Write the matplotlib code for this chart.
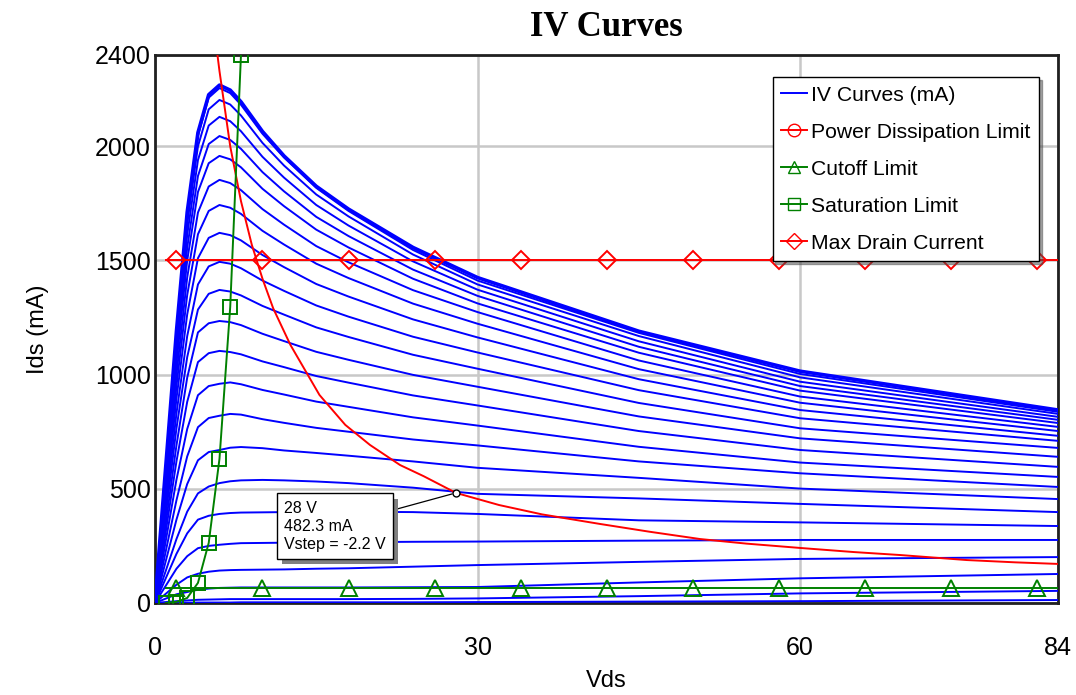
import matplotlib
matplotlib.use('Agg')
import matplotlib.pyplot as plt
from matplotlib.lines import Line2D
import matplotlib.patheffects as pe

plt.rcParams['font.family'] = ['Liberation Sans', 'DejaVu Sans']

# Vds sample points (V) shared by all IV curves
vds = [0, 2, 3, 4, 5, 6, 7, 8, 10, 12, 15, 18, 24, 30, 45, 60, 84]

# Ids (mA) for each gate step, bottom curve first
ids_steps = [
    [0, 1, 1, 2, 2, 2, 2, 3, 3, 3, 3, 3, 3, 4, 6, 8, 13],
    [0, 8, 11, 14, 15, 16, 17, 17, 17, 17, 17, 17, 18, 20, 30, 42, 53],
    [0, 38, 48, 58, 63, 66, 67, 68, 68, 68, 68, 68, 69, 70, 90, 108, 127],
    [0, 80, 112, 128, 137, 142, 144, 145, 146, 147, 150, 152, 159, 166, 180, 193, 201],
    [0, 150, 205, 240, 250, 255, 259, 262, 263, 264, 265, 266, 268, 269, 273, 276, 276],
    [0, 215, 305, 365, 382, 390, 394, 396, 397, 398, 399, 400, 398, 390, 362, 353, 337],
    [0, 280, 400, 480, 510, 525, 533, 537, 539, 537, 532, 525, 505, 478, 458, 434, 398],
    [0, 365, 521, 625, 661, 670, 680, 683, 678, 668, 657, 645, 620, 592, 548, 501, 455],
    [0, 450, 642, 770, 810, 820, 828, 825, 805, 789, 767, 750, 716, 690, 620, 568, 508],
    [0, 540, 762, 910, 950, 960, 966, 958, 933, 913, 882, 859, 813, 777, 684, 615, 552],
    [0, 620, 881, 1055, 1094, 1104, 1099, 1089, 1058, 1033, 994, 965, 909, 865, 753, 670, 596],
    [0, 690, 987, 1185, 1225, 1235, 1230, 1217, 1179, 1147, 1100, 1065, 999, 947, 817, 721, 640],
    [0, 765, 1077, 1285, 1354, 1371, 1364, 1347, 1301, 1263, 1207, 1165, 1087, 1026, 876, 765, 679],
    [0, 830, 1169, 1395, 1474, 1494, 1486, 1466, 1412, 1367, 1303, 1254, 1166, 1097, 932, 809, 710],
    [0, 895, 1264, 1510, 1599, 1621, 1611, 1588, 1524, 1471, 1397, 1342, 1242, 1163, 980, 845, 732],
    [0, 950, 1349, 1615, 1717, 1743, 1731, 1704, 1630, 1570, 1486, 1423, 1311, 1223, 1024, 877, 753],
    [0, 1000, 1426, 1710, 1824, 1853, 1839, 1808, 1725, 1657, 1563, 1492, 1370, 1274, 1062, 904, 771],
    [0, 1050, 1500, 1800, 1926, 1958, 1943, 1908, 1814, 1738, 1635, 1557, 1420, 1312, 1096, 930, 788],
    [0, 1085, 1556, 1870, 2010, 2045, 2028, 1989, 1887, 1803, 1691, 1607, 1460, 1345, 1122, 950, 802],
    [0, 1120, 1612, 1940, 2091, 2129, 2110, 2066, 1954, 1863, 1743, 1653, 1496, 1372, 1146, 969, 815],
    [0, 1150, 1660, 2000, 2162, 2203, 2183, 2135, 2015, 1916, 1789, 1693, 1526, 1395, 1169, 988, 828],
    [0, 1180, 1699, 2045, 2213, 2255, 2233, 2182, 2055, 1951, 1818, 1717, 1546, 1412, 1183, 1003, 837],
    [0, 1190, 1712, 2060, 2226, 2268, 2246, 2195, 2065, 1958, 1825, 1725, 1557, 1425, 1190, 1015, 845],
]

# power dissipation limit
pd_v = [5.6, 6.0, 7.0, 8.0, 9.0, 10.0, 11.0, 12.6, 15.3, 17.7, 20.0, 22.8, 25.0,
        28.0, 32.0, 36.0, 41.4, 46.0, 50.7, 55.0, 60.0, 65.0, 69.3, 75.5, 80.0, 84.0]
pd_i = [2480, 2330, 2000, 1760, 1570, 1420, 1290, 1130, 911, 780, 692, 604, 555,
        482, 429, 388, 346, 312, 280, 260, 241, 223, 210, 188, 178, 171]

# saturation limit
sat_v = [1, 2, 3, 4, 5, 6, 7, 8]
sat_i = [0, 5, 22, 88, 263, 631, 1297, 2400]

# cutoff limit and max drain current (markers every 8 V)
lim_v = list(range(1, 85))
cutoff_ma = 67
max_drain_ma = 1500

# marker readout
mark_v = 28
mark_i = 482.3
vstep = -2.2

fig = plt.figure(figsize=(10.76, 6.95), dpi=100)
ax = fig.add_axes([0.144, 0.1324, 0.8395, 0.7885])

blue = '#0000ff'
red = '#ff0000'
green = '#008000'

for k, row in enumerate(ids_steps):
    lw = 2.6 if k == len(ids_steps) - 1 else 1.4
    ax.plot(vds, row, color=blue, lw=lw, zorder=3)

ax.plot(pd_v, pd_i, color=red, lw=1.4, zorder=4)
ax.plot(lim_v, [cutoff_ma] * len(lim_v), color=green, lw=1.4, marker='^',
        markevery=(1, 8), ms=11, mfc='none', mec=green, mew=1.4, zorder=4)
ax.plot(sat_v, sat_i, color=green, lw=1.4, marker='s', ms=10,
        mfc='none', mec=green, mew=1.4, zorder=4)
ax.plot(lim_v, [max_drain_ma] * len(lim_v), color=red, lw=1.4, marker='D',
        markevery=(1, 8), ms=9, mfc='none', mec=red, mew=1.4, zorder=4)

ax.set_xlim(0, 84)
ax.set_ylim(0, 2400)
ax.set_xticks([0, 30, 60, 84])
ax.set_yticks([0, 500, 1000, 1500, 2000, 2400])
ax.set_yticklabels(['0', '500', '1000', '1500', '2000', '2400'])
ax.tick_params(axis='both', length=0, labelsize=18)
ax.tick_params(axis='x', pad=24)
ax.tick_params(axis='y', pad=3)
ax.grid(True, color='#c8c8c8', lw=1.8, zorder=0)
ax.set_axisbelow(True)
for s in ax.spines.values():
    s.set_linewidth(2)
    s.set_color('#202020')

ax.set_xlabel('Vds', fontsize=17, labelpad=7)
ax.set_ylabel('Ids (mA)', fontsize=17, labelpad=33)
fig.text(0.564, 0.96, 'IV Curves', ha='center', va='center', fontsize=25,
         fontweight='bold', family=['Liberation Serif', 'DejaVu Serif'])

# readout callout
ax.plot([mark_v], [mark_i], marker='o', ms=5, mfc='white', mec='black', mew=1, zorder=6)
ann = ax.annotate(f'{mark_v} V\n{mark_i} mA\nVstep = {vstep} V',
                  xy=(mark_v, mark_i), xytext=(12.0, 337), fontsize=11.5,
                  ha='left', va='center', linespacing=1.25, zorder=7,
                  bbox=dict(boxstyle='square,pad=0.45', fc='white', ec='black', lw=1),
                  arrowprops=dict(arrowstyle='-', color='black', lw=0.9, shrinkB=3))
ann.get_bbox_patch().set_path_effects([
    pe.SimplePatchShadow(offset=(4, -4), shadow_rgbFace='#808080', alpha=1),
    pe.Normal()])

handles = [
    Line2D([], [], color=blue, lw=1.4),
    Line2D([], [], color=red, lw=1.4, marker='o', ms=9, mfc='none', mec=red),
    Line2D([], [], color=green, lw=1.4, marker='^', ms=9, mfc='none', mec=green),
    Line2D([], [], color=green, lw=1.4, marker='s', ms=9, mfc='none', mec=green),
    Line2D([], [], color=red, lw=1.4, marker='D', ms=8, mfc='none', mec=red),
]
labels = ['IV Curves (mA)', 'Power Dissipation Limit', 'Cutoff Limit',
          'Saturation Limit', 'Max Drain Current']
leg = ax.legend(handles, labels, loc='upper right', bbox_to_anchor=(0.979, 0.96),
                borderaxespad=0, fontsize=15.2, handlelength=1.2, handletextpad=0.2,
                labelspacing=0.85, fancybox=False, shadow=True, framealpha=1,
                edgecolor='black', borderpad=0.42)
leg.get_frame().set_linewidth(1)
leg.set_zorder(10)

fig.savefig('out.png', dpi=100)
